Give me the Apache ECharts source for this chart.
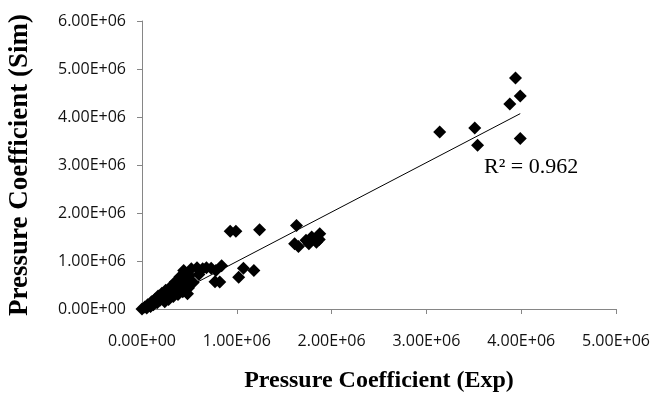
<!DOCTYPE html>
<html>
<head>
<meta charset="utf-8">
<script src="https://cdn.jsdelivr.net/npm/echarts@6/dist/echarts.min.js"></script>
<style>
  html, body { margin: 0; padding: 0; background: #fff; }
  #main { width: 658px; height: 394px; }
</style>
</head>
<body>
<div id="main"></div>
<script>
// measured points (units of 1E6)
var expValues = [
  0.00, 0.03, 0.05, 0.06, 0.09, 0.10, 0.12, 0.14, 0.16, 0.17, 0.19, 0.21, 0.22, 0.24,
  0.25, 0.27, 0.28, 0.30, 0.31, 0.33, 0.35, 0.36, 0.38, 0.40, 0.41, 0.43, 0.44, 0.46,
  0.48, 0.49, 0.50, 0.52, 0.54, 0.58, 0.60, 0.64, 0.68, 0.73, 0.78, 0.84, 0.77, 0.82,
  0.93, 0.99, 1.24, 1.02, 1.07, 1.18,
  1.63, 1.61, 1.65, 1.73, 1.79, 1.84, 1.875, 1.76, 1.87,
  3.14, 3.51, 3.54, 3.88, 3.94, 3.99, 3.99
];
var simValues = [
  0.00, 0.04, 0.02, 0.09, 0.05, 0.15, 0.09, 0.21, 0.13, 0.27, 0.18, 0.33, 0.23, 0.15,
  0.39, 0.28, 0.20, 0.46, 0.34, 0.26, 0.56, 0.41, 0.30, 0.67, 0.48, 0.36, 0.80, 0.58,
  0.32, 0.44, 0.70, 0.84, 0.55, 0.86, 0.72, 0.84, 0.86, 0.85, 0.80, 0.90, 0.57, 0.56,
  1.62, 1.62, 1.65, 0.66, 0.85, 0.80,
  1.74, 1.36, 1.30, 1.43, 1.50, 1.39, 1.57, 1.36, 1.45,
  3.69, 3.77, 3.41, 4.27, 4.81, 4.44, 3.55
];
// linear trendline end points (units of 1E6)
var trendX = [0.04, 3.99];
var trendY = [0.00, 4.07];
var rSquared = '0.962';
var SCALE = 1e6;

function sciLabel(v) {
  if (v === 0) return '0.00E+00';
  var e = Math.floor(Math.log10(Math.abs(v)));
  var m = v / Math.pow(10, e);
  return m.toFixed(2) + 'E' + (e < 0 ? '-' : '+') + String(Math.abs(e)).padStart(2, '0');
}

var points = expValues.map(function (x, i) { return [x * SCALE, simValues[i] * SCALE]; });
var trend = trendX.map(function (x, i) { return [x * SCALE, trendY[i] * SCALE]; });

var chart = echarts.init(document.getElementById('main'));
var axisCommon = {
  type: 'value',
  splitLine: { show: false },
  axisLine: { show: true, lineStyle: { color: '#868686', width: 1 } },
  axisTick: { show: true, inside: false, length: 5, lineStyle: { color: '#868686' } },
  axisLabel: { fontFamily: 'Open Sans', fontSize: 16, color: '#111', formatter: sciLabel },
  nameLocation: 'middle',
  nameTextStyle: { fontFamily: 'Liberation Serif', fontWeight: 'bold', color: '#000' }
};

chart.setOption({
  animation: false,
  grid: { left: 142, right: 42, top: 21, bottom: 85, containLabel: false, outerBoundsMode: 'none' },
  xAxis: Object.assign({}, axisCommon, {
    min: 0, max: 5e6, interval: 1e6,
    name: 'Pressure Coefficient (Exp)',
    nameGap: 60,
    axisLabel: Object.assign({}, axisCommon.axisLabel, { margin: 24 }),
    nameTextStyle: Object.assign({}, axisCommon.nameTextStyle, { fontSize: 24 })
  }),
  yAxis: Object.assign({}, axisCommon, {
    min: 0, max: 6e6, interval: 1e6,
    name: 'Pressure Coefficient (Sim)',
    nameGap: 108,
    axisLabel: Object.assign({}, axisCommon.axisLabel, { margin: 16 }),
    nameTextStyle: Object.assign({}, axisCommon.nameTextStyle, { fontSize: 27 })
  }),
  graphic: [{
    type: 'text',
    left: 484,
    top: 156,
    style: { text: 'R\u00B2 = ' + rSquared, font: '22px "Liberation Serif"', fill: '#000' }
  }],
  series: [
    {
      type: 'line',
      data: trend,
      symbol: 'none',
      lineStyle: { color: '#000', width: 1 },
      z: 3
    },
    {
      type: 'scatter',
      data: points,
      symbol: 'diamond',
      symbolSize: 13,
      itemStyle: { color: '#000', opacity: 1 },
      z: 2
    }
  ]
});
</script>
</body>
</html>
